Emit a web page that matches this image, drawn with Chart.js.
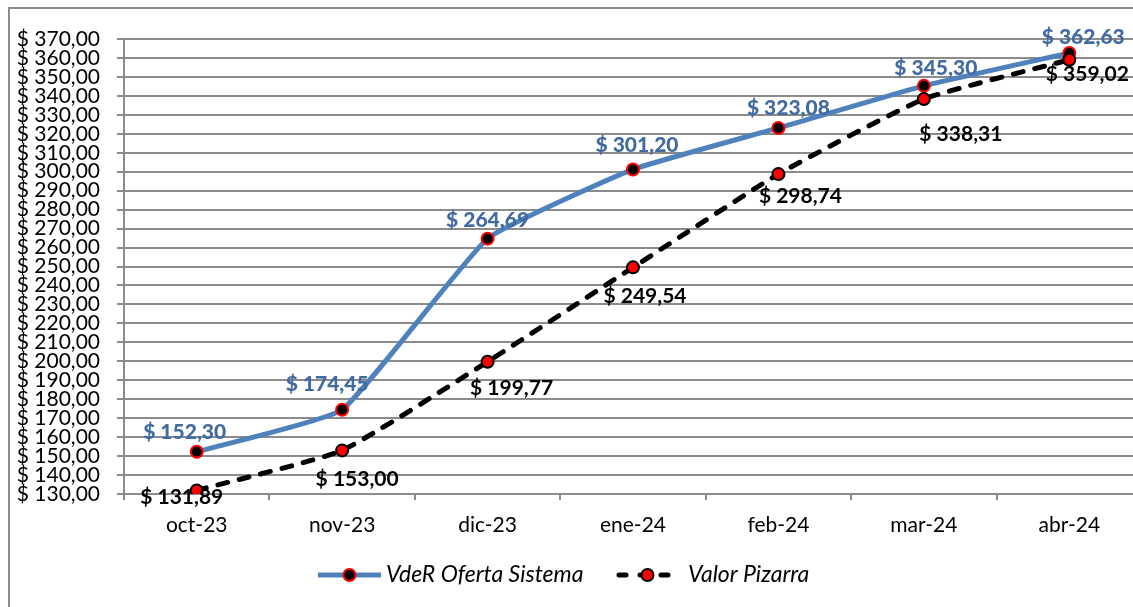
<!DOCTYPE html>
<html>
<head>
<meta charset="utf-8">
<script src="https://cdn.jsdelivr.net/npm/chart.js@4.4.1/dist/chart.umd.min.js"></script>
<style>
  html, body { margin: 0; padding: 0; background: #fff; overflow: hidden; }
  #wrap { width: 1150px; height: 607px; }
</style>
</head>
<body>
<div id="wrap"><canvas id="lineChart" width="1150" height="607"></canvas></div>
<script>
// months and values
var months = ["oct-23", "nov-23", "dic-23", "ene-24", "feb-24", "mar-24", "abr-24"];
var vdeR = [152.30, 174.45, 264.69, 301.20, 323.08, 345.30, 362.63];
var pizarra = [131.89, 153.00, 199.77, 249.54, 298.74, 338.31, 359.02];
var names = ["VdeR Oferta Sistema", "Valor Pizarra"];

const BLUE = "#4f81bd";
const GRID = "#8c8c8c";
const FONT = "Lato";

function money(v) {
  return "$ " + v.toFixed(2).replace(".", ",");
}

// label placement tweaks (pixels) so the labels sit where Excel put them
const labelShift = [
  { dx: [-12, -15, 0, 4, 10, 12, 14], dy: [-19, -25, -18, -24, -20, -18, -16], color: "#416ba1" },
  { dx: [-15, 15, 24, 12, 22, 37, 18], dy: [7, 29, 27, 29, 22, 35, 14], color: "#000" }
];

const decor = {
  id: "decor",
  beforeDraw(chart) {
    const ctx = chart.ctx;
    ctx.save();
    ctx.fillStyle = "#fff";
    ctx.fillRect(0, 0, chart.width, chart.height);
    ctx.strokeStyle = GRID;
    ctx.lineWidth = 2;
    ctx.strokeRect(9, 8, 2000, 2000);
    ctx.restore();
  },
  afterDatasetsDraw(chart) {
    const ctx = chart.ctx;
    ctx.save();
    ctx.font = "900 21px " + FONT;
    ctx.textAlign = "center";
    ctx.textBaseline = "middle";
    chart.data.datasets.forEach(function (ds, i) {
      const meta = chart.getDatasetMeta(i);
      const sh = labelShift[i];
      ctx.fillStyle = sh.color;
      ctx.font = (i === 0 ? "900 " : "bold ") + "21px " + FONT;
      meta.data.forEach(function (pt, j) {
        ctx.fillText(money(ds.data[j]), pt.x + sh.dx[j], pt.y + sh.dy[j]);
      });
    });
    ctx.restore();
  },
  afterDraw(chart) {
    // legend: line sample with marker, then italic name
    const ctx = chart.ctx;
    const y = 575;
    const items = [
      { x0: 318, x1: 381, ds: 0 },
      { x0: 619, x1: 676, ds: 1 }
    ];
    ctx.save();
    items.forEach(function (it) {
      const ds = chart.data.datasets[it.ds];
      ctx.beginPath();
      ctx.strokeStyle = ds.borderColor;
      ctx.lineWidth = ds.borderWidth;
      ctx.lineCap = it.ds === 1 ? "round" : "butt";
      ctx.setLineDash(it.ds === 1 ? [7, 14] : []);
      ctx.moveTo(it.x0, y);
      ctx.lineTo(it.x1, y);
      ctx.stroke();
      ctx.setLineDash([]);
      const mx = (it.x0 + it.x1) / 2;
      ctx.beginPath();
      ctx.arc(mx, y, 6, 0, Math.PI * 2);
      ctx.fillStyle = ds.pointBackgroundColor;
      ctx.fill();
      ctx.lineWidth = 2;
      ctx.strokeStyle = ds.pointBorderColor;
      ctx.stroke();
    });
    ctx.font = "italic 23px " + FONT;
    ctx.fillStyle = "#000";
    ctx.textBaseline = "middle";
    ctx.textAlign = "left";
    ctx.fillText(names[0], 386, y);
    ctx.fillText(names[1], 688, y);
    ctx.restore();
  }
};

const CHART = document.getElementById("lineChart");
let lineChart = new Chart(CHART, {
  type: "line",
  data: {
    labels: months,
    datasets: [
      {
        label: names[0],
        data: vdeR,
        borderColor: BLUE,
        borderWidth: 5,
        lineTension: 0.12,
        pointRadius: 6,
        pointBorderWidth: 2,
        pointBackgroundColor: "#000",
        pointBorderColor: "#ff0000",
        order: 1
      },
      {
        label: names[1],
        data: pizarra,
        borderColor: "#000",
        borderWidth: 5,
        borderDash: [10, 12],
        borderCapStyle: "round",
        lineTension: 0.15,
        pointRadius: 6,
        pointBorderWidth: 2,
        pointBackgroundColor: "#ff0000",
        pointBorderColor: "#000",
        order: 0
      }
    ]
  },
  options: {
    responsive: false,
    animation: false,
    devicePixelRatio: 1,
    layout: { padding: { left: 10, right: 7, top: 39, bottom: 60 } },
    plugins: { legend: { display: false }, tooltip: { enabled: false } },
    scales: {
      x: {
        offset: true,
        afterFit: function (s) { s.height = 53; },
        grid: { drawOnChartArea: false, offset: true, color: GRID, lineWidth: 2, tickLength: 6 },
        border: { color: GRID, width: 2 },
        ticks: { color: "#000", font: { family: FONT, size: 21 }, padding: 13, maxRotation: 0 }
      },
      y: {
        min: 130,
        max: 370,
        afterFit: function (s) { s.width = 114; },
        grid: { color: GRID, lineWidth: 2, tickLength: 7 },
        border: { color: GRID, width: 2 },
        ticks: {
          stepSize: 10,
          autoSkip: false,
          color: "#000",
          padding: 17,
          font: { family: FONT, size: 21, lineHeight: 1 },
          callback: function (v) { return money(v); }
        }
      }
    }
  },
  plugins: [decor]
});
</script>
</body>
</html>
